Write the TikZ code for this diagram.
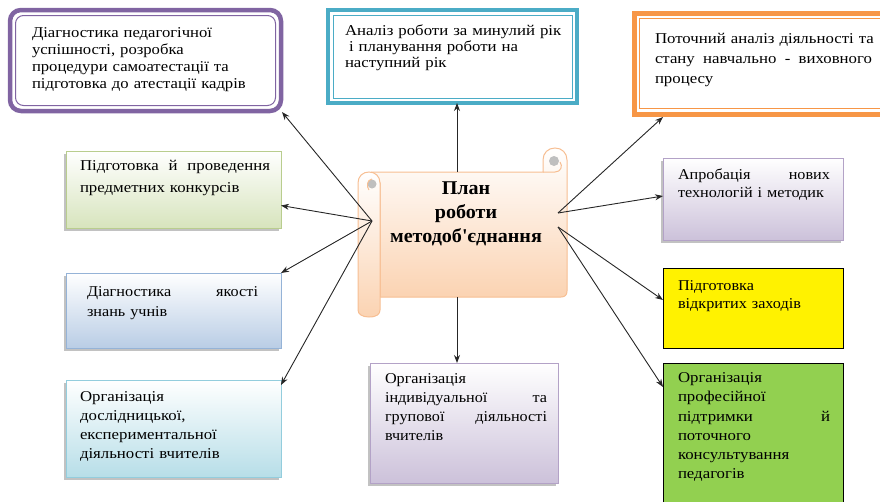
\documentclass[tikz,border=0pt]{standalone}
\usepackage{fontspec}
\setmainfont{Liberation Serif}
\newfontfamily\stA[FakeStretch=1.03]{Liberation Serif}
\newfontfamily\stB[FakeStretch=1.08]{Liberation Serif}
\newfontfamily\stC[FakeStretch=1.12]{Liberation Serif}
\newfontfamily\stD[FakeStretch=1.12]{Liberation Serif}
\newfontfamily\stE[FakeStretch=1.11]{Liberation Serif}
\usetikzlibrary{arrows.meta,shadows,calc}
\definecolor{purp}{HTML}{8064A2}
\definecolor{teal1}{HTML}{4BACC6}
\definecolor{orng}{HTML}{F79646}
\definecolor{grnb}{HTML}{D7E4BD}
\definecolor{grnl}{HTML}{B9CD8E}
\definecolor{blub}{HTML}{B9CDE5}
\definecolor{blul}{HTML}{95B3D7}
\definecolor{cynb}{HTML}{B7DEE8}
\definecolor{cynl}{HTML}{93CDDD}
\definecolor{lilb}{HTML}{CCC1DA}
\definecolor{lill}{HTML}{B3A2C7}
\definecolor{dgreen}{HTML}{92D050}
\definecolor{scrb}{HTML}{FBD3B2}
\definecolor{scrl}{HTML}{F7BE92}
\begin{document}
\begin{tikzpicture}[x=1pt,y=-1pt,
  boxbase/.style={rectangle, inner sep=0pt, outer sep=0pt},
  softbox/.style={boxbase, drop shadow={shadow xshift=-2pt, shadow yshift=-3pt, opacity=0.4, fill=black!60}},
  txt/.style={anchor=north west, inner sep=0pt, outer sep=0pt, align=left},
  conn/.style={draw=black!85, line width=0.9pt, -{Stealth[length=8pt,width=6pt]}},
  scrollline/.style={draw=scrl, line width=1pt}]
\useasboundingbox (0,0) rectangle (880,501);

% top boxes with double borders
\node[boxbase, draw=purp, line width=4.5pt, rounded corners=11pt, fill=white, minimum width=271pt, minimum height=101pt] (tl) at (145.5,60.5) {};
\draw[purp, line width=1pt, rounded corners=8pt] ($(tl.north west)+(5.5,5.5)$) rectangle ($(tl.south east)+(-5.5,-5.5)$);
\node[boxbase, draw=teal1, line width=4.5pt, fill=white, minimum width=249pt, minimum height=93pt] (tm) at (452.5,56.5) {};
\draw[teal1, line width=1pt] ($(tm.north west)+(5,5)$) rectangle ($(tm.south east)+(-5,-5)$);
\node[boxbase, draw=orng, line width=5pt, fill=white, minimum width=256pt, minimum height=101pt] (tr) at (762,63.5) {};
\draw[orng, line width=1pt] ($(tr.north west)+(5.5,5.5)$) rectangle ($(tr.south east)+(-5.5,-5.5)$);

% left boxes
\node[softbox, draw=grnl, top color=white, bottom color=grnb, minimum width=215pt, minimum height=77pt] (green) at (173.5,189.5) {};
\node[softbox, draw=blul, top color=white, bottom color=blub, minimum width=215pt, minimum height=75pt] (blue) at (173.5,310.5) {};
\node[softbox, draw=cynl, top color=white, bottom color=cynb, minimum width=215pt, minimum height=97pt] (org) at (173.5,428.5) {};
% bottom middle
\node[softbox, draw=lill, top color=white, bottom color=lilb, minimum width=188pt, minimum height=120pt] (bm) at (464,423) {};
% right boxes
\node[softbox, draw=lill, top color=white, bottom color=lilb, minimum width=180pt, minimum height=82pt] (apr) at (753,199) {};
\node[boxbase, draw=black, line width=0.8pt, fill=yellow, minimum width=180pt, minimum height=80pt] (yel) at (753,308) {};
\node[boxbase, draw=black, line width=0.8pt, fill=dgreen, minimum width=180pt, minimum height=157pt] (dg) at (753,441.5) {};

% scroll
\draw[scrollline, top color=white, bottom color=scrb]
  (380,183) -- (380,297) -- (561,297) .. controls (565,297) and (567,295) .. (567,291)
  -- (567,160) .. controls (567,153) and (562,148) .. (555,148)
  .. controls (548,148) and (543,153) .. (543,160) -- (543,172) -- (372,172) -- cycle;
\draw[scrollline] (543,172) -- (555,172) .. controls (561,172) and (563,166) .. (560,162);
\fill[black!25] (554,161) circle (5pt);
\draw[scrollline, top color=white, bottom color=scrb]
  (380,183) -- (380,310) .. controls (380,314) and (377,317) .. (369,317)
  .. controls (362,317) and (358,314) .. (358,310) -- (358,183)
  .. controls (358,176) and (363,172) .. (369,172)
  .. controls (375,172) and (380,176) .. (380,183) -- cycle;
\fill[black!25] (372,184) circle (4.5pt);
\draw[scrollline] (369,190) .. controls (366,186) and (367,180) .. (372,179);
\node[inner sep=0pt, align=center, font=\stA\bfseries\fontsize{19.5}{24}\selectfont] (plan) at (466,214) {План\\роботи\\методоб\textquotesingle єднання};

% connector anchors on the scroll
\coordinate (L) at (372,221);
\coordinate (R1) at (558,213);
\coordinate (R2) at (558,227);
\coordinate (T) at (457,172);
\coordinate (B) at (457,297);

% texts
\node[txt, text width=245pt, font=\stE\fontsize{15}{17}\selectfont] (tlt) at (32,28) {Діагностика педагогічної\\успішності, розробка\\процедури самоатестації та\\підготовка до атестації кадрів};
\node[txt, text width=230pt, font=\stC\fontsize{15}{16}\selectfont] (tmt) at (345,24.5) {Аналіз роботи за минулий рік\\\hspace*{4pt}і планування роботи на\\наступний рік};
\node[txt, text width=217pt, font=\stD\fontsize{15}{20}\selectfont] (trt) at (655,33) {\makebox[217pt][l]{Поточний\ \hfill аналіз\ \hfill діяльності\ \hfill та}\\\makebox[217pt][l]{стану\ \hfill навчально\ \hfill -\ \hfill виховного}\\процесу};
\node[txt, text width=190pt, font=\stC\fontsize{15}{22}\selectfont] (grt) at (80,160.5) {Підготовка\hfill й\hfill проведення\\предметних конкурсів};
\node[txt, text width=171pt, font=\stB\fontsize{15}{20}\selectfont] (blt) at (87,286.5) {Діагностика\hfill якості\\знань учнів};
\node[txt, text width=190pt, font=\stC\fontsize{15}{19}\selectfont] (ort) at (80,391.5) {Організація\\дослідницької,\\експериментальної\\діяльності вчителів};
\node[txt, text width=162pt, font=\stB\fontsize{15}{19}\selectfont] (bmt) at (385,373.5) {Організація\\індивідуальної\hfill та\\групової\hfill діяльності\\вчителів};
\node[txt, text width=152pt, font=\stB\fontsize{15}{18}\selectfont] (aprt) at (678,168.5) {Апробація\hfill нових\\технологій і методик};
\node[txt, text width=152pt, font=\stB\fontsize{15}{18}\selectfont] (yelt) at (678,280.5) {Підготовка\\відкритих заходів};
\node[txt, text width=152pt, font=\stC\fontsize{15}{19.3}\selectfont] (dgt) at (678,372.5) {Організація\\професійної\\підтримки\hfill й\\поточного\\консультування\\педагогів};

% connectors
\draw[conn] (L) -- ($(tl.south east)+(1,1)$);
\draw[conn] (L) -- ($(green.east)+(0,16)$);
\draw[conn] (L) -- (blue.north east);
\draw[conn] (L) -- ($(org.north east)+(0,5)$);
\draw[conn] (T) -- (T |- tm.south);
\draw[conn] (B) -- (B |- bm.north);
\draw[conn] (R1) -- ($(tr.south west)+(29,3)$);
\draw[conn] (R1) -- ($(apr.west)+(0,-3)$);
\draw[conn] (R2) -- ($(yel.west)+(0,-8)$);
\draw[conn] (R2) -- ($(dg.north west)+(0,24)$);
\end{tikzpicture}
\end{document}
